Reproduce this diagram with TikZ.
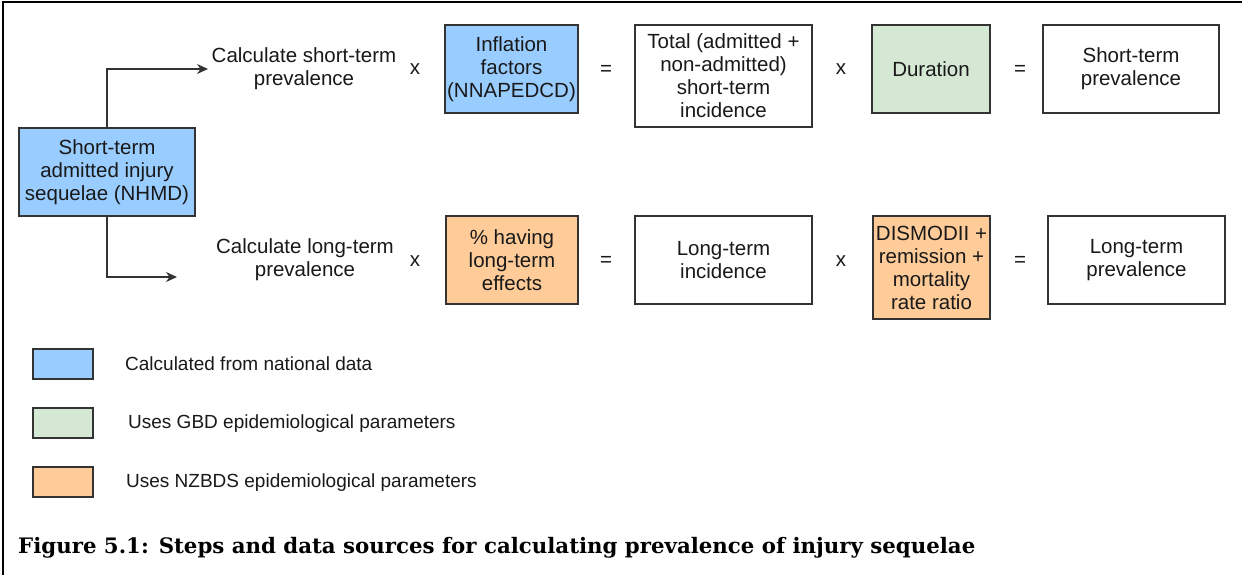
\documentclass[tikz,border=0pt]{standalone}
\usepackage{fontspec}
\setmainfont{Liberation Sans}
\newfontfamily\capfont{DejaVu Serif}
\usetikzlibrary{arrows.meta}
\definecolor{cblue}{HTML}{99CCFF}
\definecolor{cgreen}{HTML}{D5E8D4}
\definecolor{corange}{HTML}{FFCC99}
\definecolor{edge}{HTML}{333333}
\begin{document}
\begin{tikzpicture}[x=1pt,y=-1pt,
  every node/.style={font=\fontsize{20.5}{23}\selectfont, text=black!90},
  box/.style={draw=edge, line width=1.3pt, rectangle, align=center, inner sep=0pt},
  lbl/.style={align=center, inner sep=1pt},
  op/.style={inner sep=0pt},
  leg/.style={draw=edge, line width=1.3pt, minimum width=60pt, minimum height=30pt, inner sep=0pt},
  legtxt/.style={anchor=west, inner sep=0pt, font=\fontsize{19}{22}\selectfont},
  conn/.style={draw=edge, line width=1.3pt, -{Stealth[length=11pt,width=10pt]}}]
\useasboundingbox (0,0) rectangle (1242,575);
\fill[white] (0,0) rectangle (1242,575);
% frame (left and top)
\draw[line width=2.6pt] (3,575) -- (3,2) -- (1242,2);

% source box
\node[box, fill=cblue, minimum width=176pt, minimum height=88pt] (src) at (107,172)
  {Short-term\\admitted injury\\sequelae (NHMD)};
\coordinate (stEnd) at (208,69);
\coordinate (ltEnd) at (177,277);
\draw[conn] (src.north) |- (stEnd);
\draw[conn] (src.south) |- (ltEnd);

% top row
\node[lbl] (calcST) at (304,68.5) {Calculate short-term\\prevalence};
\node[op] (x1) at (415,69) {x};
\node[box, fill=cblue, minimum width=133pt, minimum height=88pt] (infl) at (511.5,69)
  {Inflation\\factors\\(NNAPEDCD)};
\node[op] (e1) at (606,70) {=};
\node[box, fill=white, minimum width=177pt, minimum height=102pt] (total) at (723.5,76)
  {Total (admitted +\\non-admitted)\\short-term\\incidence};
\node[op] (x2) at (841,69) {x};
\node[box, fill=cgreen, minimum width=118pt, minimum height=88pt] (dur) at (931,69)
  {Duration};
\node[op] (e2) at (1020,70) {=};
\node[box, fill=white, minimum width=176pt, minimum height=88pt] (stp) at (1131,69)
  {Short-term\\prevalence};

% bottom row
\node[lbl] (calcLT) at (305,260) {Calculate long-term\\prevalence};
\node[op] (x3) at (415,261) {x};
\node[box, fill=corange, minimum width=132pt, minimum height=88pt] (pct) at (512,260)
  {\% having\\long-term\\effects};
\node[op] (e3) at (606,261) {=};
\node[box, fill=white, minimum width=177pt, minimum height=88pt] (lti) at (723.5,260)
  {Long-term\\incidence};
\node[op] (x4) at (841,261) {x};
\node[box, fill=corange, minimum width=117pt, minimum height=103pt] (dis) at (931.5,267.5)
  {DISMODII +\\remission +\\mortality\\rate ratio};
\node[op] (e4) at (1020,261) {=};
\node[box, fill=white, minimum width=177pt, minimum height=88pt] (ltp) at (1136.5,260)
  {Long-term\\prevalence};

% legend
\node[leg, fill=cblue] (l1) at (63,364) {};
\node[legtxt] (t1) at (125,364) {Calculated from national data};
\node[leg, fill=cgreen] (l2) at (63,423) {};
\node[legtxt] (t2) at (128,424) {Uses GBD epidemiological parameters};
\node[leg, fill=corange] (l3) at (63,482) {};
\node[legtxt] (t3) at (126,483) {Uses NZBDS epidemiological parameters};

% caption
\node[anchor=west, inner sep=0pt, text=black, font=\capfont\bfseries\fontsize{21.3}{25}\selectfont] (cap) at (18,548)
  {Figure 5.1: Steps and data sources for calculating prevalence of injury sequelae};
\end{tikzpicture}
\end{document}
